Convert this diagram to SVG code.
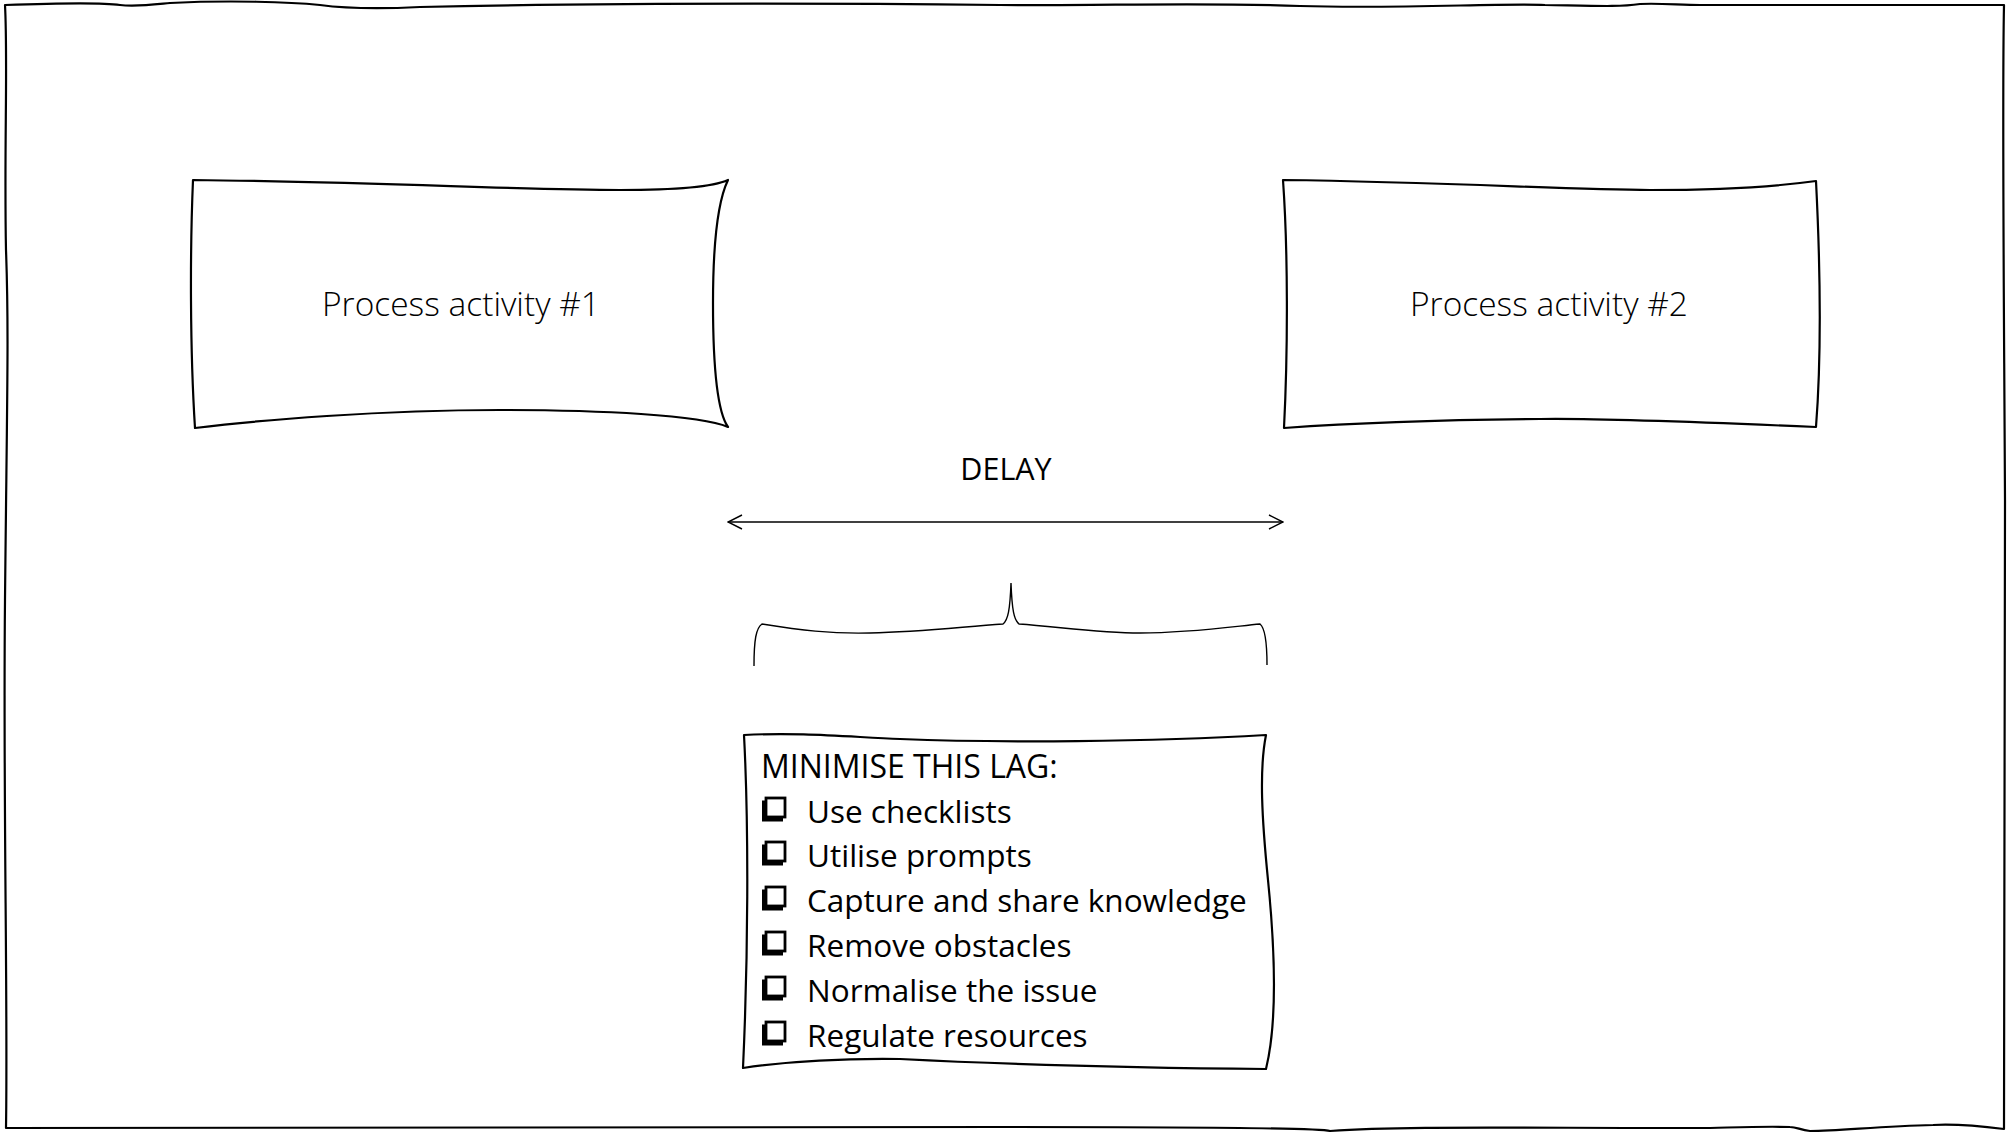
<svg xmlns="http://www.w3.org/2000/svg" width="2009" height="1135" viewBox="0 0 2009 1135">
<defs>
<style>
.frame{fill:none;stroke:#000;stroke-width:2.2;stroke-linejoin:round}
.box{fill:#fff;stroke:#000;stroke-width:2.2;stroke-linejoin:round}
.thin{fill:none;stroke:#000;stroke-width:1.4}
.proc{font-family:"Open Sans","Noto Sans",sans-serif;font-weight:300;font-size:33.5px;fill:#000;text-anchor:middle}
.lbl{font-family:"Open Sans","Noto Sans",sans-serif;font-weight:400;font-size:30.5px;fill:#000}
.head{font-family:"Open Sans","Noto Sans",sans-serif;font-weight:400;font-size:32px;fill:#000}
.item{font-family:"Open Sans","Noto Sans",sans-serif;font-weight:400;font-size:31.5px;fill:#000}
.cb{fill:#fff;stroke:#000;stroke-width:2.8}
.cbs{fill:#000}
</style>
<marker id="open" viewBox="0 0 16 16" refX="15" refY="8" markerWidth="16" markerHeight="16" markerUnits="userSpaceOnUse" orient="auto-start-reverse">
<path d="M1,1 L15,8 L1,15" fill="none" stroke="#000" stroke-width="1.4"/>
</marker>
<g id="checkbox">
<rect class="cbs" x="0" y="3.5" width="21" height="21"/>
<rect class="cb" x="4" y="1" width="19" height="19"/>
</g>
</defs>
<rect width="2009" height="1135" fill="#fff"/>
<g id="frame">
<path class="frame" d="M5,5 C60,3 100,2 120,5 C135,7 150,5 170,3 C230,0 290,2 320,5 C350,9 380,9 420,7 C600,3 800,3 1000,5 C1100,6 1200,2 1300,6 C1400,9 1500,3 1545,5 C1600,6 1620,7 1640,4 C1660,3 1680,5 1700,5 L2004,5 C2002,100 2004,300 2005,500 C2006,700 2003,900 2004,1129 C1980,1126 1950,1124 1933,1125 C1880,1126 1840,1131 1810,1131 C1800,1130 1797,1127 1790,1127 C1760,1126 1720,1128 1700,1128 C1500,1128 1400,1126 1330,1131 C1320,1128 1200,1127 1000,1127 C700,1127 300,1128 6,1128 C8,1000 3,800 5,600 C7,400 9,330 6,250 C4,150 8,60 5,5 Z"/>
</g>
<g id="node-activity1">
<path class="box" d="M193,180 C380,182 520,190 620,190 C680,190 715,186 728,180 C716,205 713,260 713,303 C713,360 716,410 728,427 C700,415 600,410 500,410 C380,410 260,420 195,428 C190,350 190,250 193,180 Z"/>
<text class="proc" x="461" y="316">Process activity #1</text>
</g>
<g id="node-activity2">
<path class="box" d="M1283,180 C1450,182 1570,190 1650,190 C1720,190 1780,186 1816,181 C1820,260 1822,350 1816,427 C1700,422 1600,418 1540,419 C1420,420 1340,424 1284,428 C1288,350 1288,250 1283,180 Z"/>
<text class="proc" x="1549" y="316">Process activity #2</text>
</g>
<g id="node-delay">
<text class="lbl" x="1006" y="480" text-anchor="middle">DELAY</text>
</g>
<g id="node-list">
<path class="box" d="M744,735 C800,732 850,737 900,739 C1000,743 1150,742 1266,735 C1259,770 1262,820 1268,880 C1275,950 1278,1020 1266,1069 C1150,1068 1000,1064 900,1059 C820,1058 770,1064 743,1068 C748,960 749,830 744,735 Z"/>
<text class="head" x="761" y="778">MINIMISE THIS LAG:</text>
<use href="#checkbox" x="762" y="797"/>
<text class="item" x="807" y="823">Use checklists</text>
<use href="#checkbox" x="762" y="841"/>
<text class="item" x="807" y="867">Utilise prompts</text>
<use href="#checkbox" x="762" y="886"/>
<text class="item" x="807" y="912">Capture and share knowledge</text>
<use href="#checkbox" x="762" y="931"/>
<text class="item" x="807" y="957">Remove obstacles</text>
<use href="#checkbox" x="762" y="976"/>
<text class="item" x="807" y="1002">Normalise the issue</text>
<use href="#checkbox" x="762" y="1021"/>
<text class="item" x="807" y="1047">Regulate resources</text>
</g>
<g id="connectors">
<line class="thin" x1="728" y1="522" x2="1283" y2="522" marker-start="url(#open)" marker-end="url(#open)"/>
<path class="thin" d="M754,666 C754,640 756,628 762,624 C800,630 830,634 870,633 C920,632 960,627 1003,624 C1008,620 1010,610 1011,583 C1012,610 1014,620 1019,624 C1060,627 1100,633 1140,633 C1190,633 1230,627 1260,624 C1265,628 1267,640 1267,665"/>
</g>
</svg>
